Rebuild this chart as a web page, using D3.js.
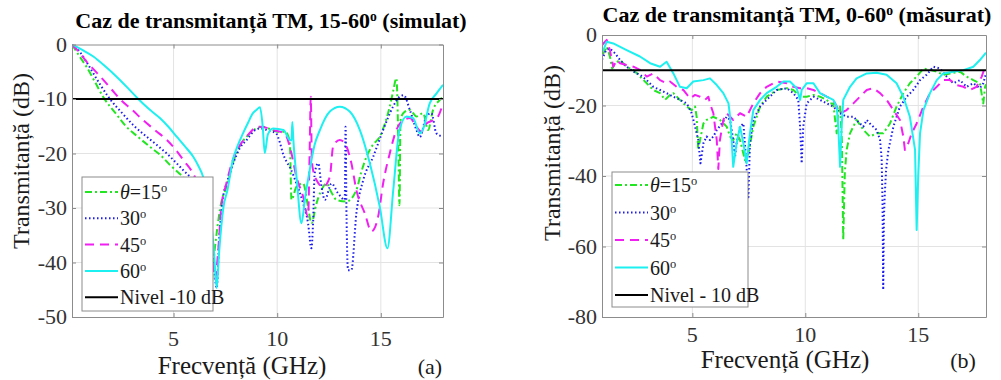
<!DOCTYPE html>
<html>
<head>
<meta charset="utf-8">
<script src="https://cdn.jsdelivr.net/npm/d3@7"></script>
<style>
  html, body { margin: 0; padding: 0; background: #fff; }
  svg text { font-family: "Liberation Serif", "Times New Roman", "DejaVu Serif", serif; }
</style>
</head>
<body>
<svg id="chart" width="1001" height="380"></svg>
<script>
// ---- data ----
const seriesNames = ["15", "30", "45", "60"];
const xTicks = [5, 10, 15];
const simYTicks = [0, -10, -20, -30, -40, -50];
const measYTicks = [0, -20, -40, -60, -80];
const levelDb = -10;

// simulated, [GHz, dB]
const sim15 = [[0.1,0],[0.4,-1.8],[0.8,-4.1],[1.2,-6.8],[1.6,-9.6],[2.2,-12.6],[2.7,-15],[3.3,-17],[3.9,-18.9],[4.4,-20.4],[4.8,-22],[5.2,-23.4],[5.5,-24.5],[5.9,-27],[6.3,-31],[6.6,-38],[6.75,-49],[6.9,-41],[7.08,-34.6],[7.3,-29],[7.57,-26],[7.86,-21.8],[8.2,-18.6],[8.53,-16.9],[8.9,-15.6],[9.3,-15.1],[9.7,-15.6],[10.0,-16],[10.4,-16],[10.5,-16.5],[10.61,-18.1],[10.69,-28.5],[10.93,-26.1],[11.25,-25.5],[11.49,-29.8],[11.65,-32.8],[11.9,-29.1],[12.1,-27],[12.38,-25.5],[12.6,-27],[12.86,-28.5],[13.34,-28.8],[13.82,-26.7],[14.05,-23.5],[14.31,-20.6],[14.6,-18.5],[14.95,-16.9],[15.2,-14.5],[15.43,-11.4],[15.6,-8.5],[15.75,-6.2],[15.8,-10],[15.85,-20],[15.9,-29.5],[15.95,-14],[16.08,-12.6],[16.4,-12],[16.72,-13.2],[17.04,-12.6],[17.28,-15.7],[17.52,-12],[17.84,-10.2],[18,-9.6]];
const sim30 = [[0.1,0],[0.4,-1],[0.8,-3.2],[1.13,-5.3],[1.5,-7.6],[1.93,-10],[2.5,-12.5],[3.06,-14.8],[3.6,-16.6],[4.18,-18.4],[4.7,-20.1],[5.15,-21.8],[5.5,-23.2],[5.79,-24.3],[6.2,-27],[6.6,-31],[6.9,-38],[7.08,-44.7],[7.2,-36],[7.35,-29],[7.6,-25],[7.86,-22],[8.2,-19],[8.53,-17.5],[8.9,-15.8],[9.16,-15.4],[9.6,-15.8],[9.95,-16.3],[10.13,-18],[10.28,-20],[10.45,-21.5],[10.61,-22.5],[10.93,-25.5],[11.25,-29.1],[11.49,-32.8],[11.65,-37.4],[11.73,-32.8],[11.81,-23.6],[11.98,-21.8],[12.14,-26.1],[12.3,-28.5],[12.62,-25.5],[12.94,-27.3],[13.26,-28.5],[13.3,-15.1],[13.34,-30],[13.42,-41.4],[13.58,-41.4],[13.82,-31],[14.15,-24.9],[14.63,-20.6],[15.11,-15.7],[15.59,-11.4],[15.9,-9.6],[16.1,-9.3],[16.4,-12],[16.72,-15.7],[16.88,-17],[17.2,-13.2],[17.44,-12.6],[17.68,-16.3],[18,-16.9]];
const sim45 = [[0.1,0],[0.4,-1.2],[0.81,-3.2],[1.2,-4.8],[1.61,-6.5],[2.0,-8.2],[2.41,-10],[3.0,-12],[3.54,-13.9],[4.1,-15.7],[4.67,-17.5],[5.1,-19.3],[5.47,-21.2],[6.03,-24.3],[6.4,-28],[6.75,-34],[7.0,-43],[7.15,-38],[7.3,-30],[7.55,-25.5],[7.86,-21.2],[8.2,-18.5],[8.53,-16.9],[8.9,-15.4],[9.16,-15.1],[9.5,-15.3],[9.8,-15.7],[10.28,-16.2],[10.45,-16.9],[10.69,-20],[10.93,-24.3],[11.25,-27.9],[11.49,-31.6],[11.57,-18.7],[11.62,-9.6],[11.67,-21],[11.73,-23],[11.9,-24.9],[12.22,-26.1],[12.54,-24.3],[12.7,-18.7],[13.02,-17.5],[13.34,-18.7],[13.58,-21.8],[13.82,-26.7],[14.23,-31],[14.55,-34.3],[14.87,-31.6],[15.11,-25.5],[15.43,-20],[15.75,-15.7],[16.08,-13.9],[16.4,-13.5],[16.72,-15.1],[16.96,-16],[17.2,-14.5],[17.52,-13.9],[17.76,-13.2],[18,-10.8]];
const sim60 = [[0.1,0],[0.6,-1],[1.13,-2.2],[1.7,-4],[2.25,-5.9],[2.8,-8],[3.3,-10],[3.8,-11.8],[4.34,-13.5],[4.75,-15.1],[5.15,-16.9],[5.55,-18.7],[5.95,-20.6],[6.2,-22.3],[6.43,-24.3],[6.7,-29],[6.95,-38],[7.08,-44.7],[7.2,-38],[7.4,-30],[7.6,-26.7],[7.86,-21.2],[8.1,-18.5],[8.35,-16.3],[8.6,-14.3],[8.83,-12.6],[9.0,-12],[9.17,-11.5],[9.3,-15],[9.4,-19.9],[9.55,-16.5],[9.8,-15.4],[10.3,-15.7],[10.6,-17.5],[10.69,-17.6],[10.73,-14.2],[10.78,-17.5],[10.95,-25],[11.17,-32.8],[11.35,-28],[11.57,-23],[11.8,-18.5],[12.06,-15.7],[12.54,-12.3],[13.02,-11.4],[13.5,-12.3],[13.99,-15.7],[14.47,-21.8],[14.95,-29.8],[15.32,-37.4],[15.6,-26.7],[15.9,-15.7],[16.24,-13.2],[16.56,-13.5],[16.88,-16.3],[17.04,-15.5],[17.36,-10.8],[17.68,-9],[18,-7.4]];

// measured, [GHz, dB]
const meas15 = [[1.0,-5.5],[1.06,-5.2],[1.21,-3.3],[1.35,-6.1],[1.45,-9.5],[1.58,-8],[1.8,-7.1],[2.09,-9],[2.39,-9.9],[2.68,-11.8],[2.98,-13.7],[3.27,-15.6],[3.57,-16.5],[3.79,-18.4],[4.01,-17],[4.16,-16.5],[4.45,-18.4],[4.75,-20.3],[4.97,-21.3],[5.12,-20.3],[5.19,-23.2],[5.26,-32.6],[5.34,-29.8],[5.49,-25.1],[5.63,-24.1],[5.93,-23.2],[6.22,-24.1],[6.52,-26],[6.67,-28.8],[6.81,-29.8],[6.96,-27.9],[7.11,-29.8],[7.33,-35.5],[7.48,-33.6],[7.7,-26],[8.0,-20.3],[8.29,-17.5],[8.73,-15.6],[9.18,-15.1],[9.47,-15.6],[9.77,-17.5],[10.06,-17.5],[10.36,-17],[10.65,-17.5],[10.95,-18.4],[11.1,-19.4],[11.24,-19.4],[11.32,-24.1],[11.39,-27.9],[11.46,-21.3],[11.54,-20.3],[11.62,-30],[11.68,-58.2],[11.75,-39],[11.83,-32.6],[11.98,-27.9],[12.27,-24.1],[12.57,-26.9],[12.86,-28.8],[13.16,-27.9],[13.45,-27.9],[13.75,-25.1],[14.04,-20.3],[14.34,-16.5],[14.63,-13.7],[14.93,-11.8],[15.23,-9.5],[15.52,-9.9],[15.82,-10.4],[16.11,-11.3],[16.41,-10.9],[16.85,-10.4],[17.14,-11.8],[17.44,-12.8],[17.73,-13.7],[17.88,-19.4],[17.96,-14.7],[18,-14]];
const meas30 = [[1.0,-7],[1.06,-6.1],[1.18,-4.3],[1.35,-3.8],[1.58,-5.2],[1.8,-7.1],[2.09,-9],[2.39,-10.4],[2.68,-11.3],[2.98,-12.8],[3.27,-14.7],[3.57,-15.6],[3.86,-16.5],[4.16,-17.5],[4.45,-18.4],[4.75,-19.4],[4.97,-22.2],[5.12,-26],[5.26,-29.8],[5.36,-36.4],[5.49,-30.7],[5.63,-28.8],[5.78,-29.8],[5.93,-28.8],[6.08,-27],[6.3,-25.1],[6.52,-23.2],[6.67,-24.1],[6.81,-29.8],[6.89,-34.5],[6.96,-30.7],[7.11,-26],[7.26,-25.1],[7.4,-37.4],[7.48,-46],[7.55,-30.7],[7.7,-24.1],[8.0,-20.3],[8.29,-18.4],[8.73,-15.6],[9.18,-15.1],[9.47,-16.5],[9.69,-18.4],[9.77,-26],[9.84,-36.4],[9.91,-26],[10.06,-19.4],[10.36,-17.5],[10.65,-18.4],[10.95,-19.4],[11.24,-20.3],[11.54,-22.2],[11.83,-23.2],[12.13,-23.2],[12.42,-25.1],[12.57,-26],[12.72,-24.1],[12.86,-25.1],[13.16,-26.9],[13.31,-29.8],[13.38,-35],[13.42,-48],[13.45,-72.3],[13.48,-52],[13.52,-45],[13.58,-38],[13.68,-32.6],[13.9,-26],[14.19,-20.3],[14.49,-17.5],[14.78,-15.6],[15.08,-12.8],[15.37,-11.3],[15.67,-9],[15.96,-9.5],[16.26,-11.8],[16.55,-13.7],[16.85,-12.8],[17.14,-14.7],[17.44,-13.7],[17.73,-15.1],[17.88,-13.7],[18,-10.9]];
const meas45 = [[1.0,-3],[1.06,-2.4],[1.21,-1.4],[1.35,-4.3],[1.5,-9],[1.65,-7.1],[1.8,-8],[2.09,-8.5],[2.39,-9],[2.68,-9.9],[2.98,-11.8],[3.27,-10.9],[3.57,-12.8],[3.86,-13.7],[4.01,-13.2],[4.31,-14.7],[4.6,-15.6],[4.9,-18],[5.12,-17],[5.34,-17.5],[5.56,-18.4],[5.71,-17.5],[5.78,-19.4],[5.93,-22.2],[6.08,-29.8],[6.15,-38],[6.22,-29.8],[6.37,-24.1],[6.52,-22.2],[6.81,-24.1],[7.11,-22.2],[7.4,-23.2],[7.7,-19.4],[8.0,-16.5],[8.29,-14.7],[8.73,-13.2],[9.18,-13.7],[9.47,-14.7],[9.77,-15.1],[10.06,-15.1],[10.36,-15.6],[10.65,-16.5],[10.95,-17.5],[11.24,-18.4],[11.39,-20.3],[11.54,-22.2],[11.83,-21.3],[12.13,-19.4],[12.42,-17.5],[12.72,-15.6],[13.01,-15.1],[13.31,-16.5],[13.6,-18.4],[13.9,-21.3],[14.19,-24.1],[14.34,-28.8],[14.41,-32.6],[14.56,-30.7],[14.71,-27.9],[14.93,-25.1],[15.23,-20.3],[15.52,-16.5],[15.82,-14.7],[16.11,-12.8],[16.41,-12.8],[16.7,-14.2],[17.0,-14.7],[17.29,-15.6],[17.58,-14.7],[17.81,-11.8],[17.96,-9],[18,-8.5]];
const meas60 = [[1.0,-4.5],[1.06,-4.3],[1.21,-1.9],[1.5,-2.4],[2.09,-4.3],[2.68,-6.1],[3.13,-8],[3.57,-9],[3.86,-7.6],[4.16,-10.9],[4.45,-14.7],[4.75,-15.1],[5.04,-13.2],[5.49,-12.8],[5.78,-12.3],[6.08,-14.2],[6.37,-16.5],[6.6,-19.4],[6.67,-23.2],[6.74,-29.8],[6.81,-37.4],[6.96,-30.7],[7.11,-26],[7.26,-30.7],[7.4,-36.4],[7.55,-27.9],[7.7,-21.3],[8.0,-18.4],[8.29,-16.5],[8.73,-14.7],[9.03,-13.2],[9.32,-13.2],[9.62,-15.1],[9.77,-18.4],[9.84,-15.6],[10.06,-13.7],[10.36,-13.7],[10.65,-16.5],[10.95,-17.5],[11.24,-18.4],[11.39,-20.3],[11.46,-26],[11.54,-37.4],[11.61,-26],[11.68,-18.4],[11.98,-14.7],[12.27,-12.3],[12.72,-10.9],[13.16,-10.7],[13.6,-11.3],[14.04,-13.7],[14.34,-17.5],[14.63,-23.2],[14.86,-32.6],[14.93,-55.3],[15.0,-40],[15.08,-27.9],[15.23,-21.3],[15.52,-16.5],[15.82,-12.8],[16.11,-10.9],[16.55,-10.4],[17.0,-10],[17.44,-9],[17.73,-7.1],[18,-5]];

// ---- styles ----
const serif = "'Liberation Serif', 'Times New Roman', 'DejaVu Serif', serif";
const styles = [
  { color: "#22e622", dash: "7,3,2,3" },
  { color: "#1c1cf0", dash: "1.5,2.5" },
  { color: "#f21ff2", dash: "9,6" },
  { color: "#1cf0f0", dash: null }
];

const svg = d3.select("#chart");

function supText(sel, parts, size) {
  // parts: array of [text, isSuper, italic]
  parts.forEach(p => {
    const t = sel.append("tspan").text(p[0]);
    if (p[1]) t.attr("baseline-shift", "super").attr("font-size", size * 0.62);
    if (p[2]) t.attr("font-style", "italic");
  });
}

function drawPanel(cfg) {
  const x = d3.scaleLinear().domain(cfg.xDomain).range([cfg.left, cfg.right]);
  const y = d3.scaleLinear().domain(cfg.yDomain).range([cfg.bottom, cfg.top]);
  const g = svg.append("g").attr("font-family", serif);

  // grid
  g.selectAll(".vg").data(xTicks).enter().append("line")
    .attr("x1", d => x(d)).attr("x2", d => x(d))
    .attr("y1", cfg.top).attr("y2", cfg.bottom)
    .attr("stroke", "#e3e3e3").attr("stroke-width", 1);
  g.selectAll(".hg").data(cfg.yTicks.slice(1, -1)).enter().append("line")
    .attr("x1", cfg.left).attr("x2", cfg.right)
    .attr("y1", d => y(d)).attr("y2", d => y(d))
    .attr("stroke", "#e3e3e3").attr("stroke-width", 1);

  // curves
  const clipId = "clip" + cfg.id;
  svg.append("clipPath").attr("id", clipId).append("rect")
    .attr("x", cfg.left).attr("y", cfg.top)
    .attr("width", cfg.right - cfg.left).attr("height", cfg.bottom - cfg.top);
  const plot = g.append("g").attr("clip-path", `url(#${clipId})`);
  const line = d3.line().x(d => x(d[0])).y(d => y(d[1])).curve(cfg.curve);
  cfg.series.forEach((s, i) => {
    plot.append("path").datum(s)
      .attr("d", line).attr("fill", "none")
      .attr("stroke", styles[i].color).attr("stroke-width", 2)
      .attr("stroke-dasharray", styles[i].dash)
      .attr("stroke-linejoin", "round");
  });
  plot.append("line")
    .attr("x1", x(cfg.xDomain[0])).attr("x2", x(cfg.xDomain[1]))
    .attr("y1", y(levelDb)).attr("y2", y(levelDb))
    .attr("stroke", "#000").attr("stroke-width", 2.2);

  // axes box with inward ticks
  const axCol = "#8c8c8c";
  const bottomAxis = d3.axisBottom(x).tickValues(xTicks).tickSizeInner(-4).tickSizeOuter(0).tickFormat("");
  const topAxis = d3.axisTop(x).tickValues(xTicks).tickSizeInner(-4).tickSizeOuter(0).tickFormat("");
  const leftAxis = d3.axisLeft(y).tickValues(cfg.yTicks).tickSizeInner(-4).tickSizeOuter(0).tickFormat("");
  const rightAxis = d3.axisRight(y).tickValues(cfg.yTicks).tickSizeInner(-4).tickSizeOuter(0).tickFormat("");
  [[bottomAxis, `translate(0,${cfg.bottom})`], [topAxis, `translate(0,${cfg.top})`],
   [leftAxis, `translate(${cfg.left},0)`], [rightAxis, `translate(${cfg.right},0)`]].forEach(a => {
    const ag = g.append("g").attr("transform", a[1]).call(a[0]);
    ag.selectAll("path,line").attr("stroke", axCol);
  });

  // tick labels
  g.selectAll(".xl").data(xTicks).enter().append("text")
    .attr("x", d => x(d)).attr("y", cfg.xTickY)
    .attr("text-anchor", "middle").attr("font-size", 22).attr("fill", "#333")
    .attr("font-family", serif)
    .text(d => d);
  g.selectAll(".yl").data(cfg.yTicks).enter().append("text")
    .attr("x", cfg.left - 5).attr("y", d => y(d) + 7)
    .attr("text-anchor", "end").attr("font-size", 22).attr("fill", "#333")
    .attr("font-family", serif)
    .text(d => d);

  // axis labels
  g.append("text").attr("x", cfg.xLabel[0]).attr("y", cfg.xLabel[1])
    .attr("text-anchor", "middle").attr("font-size", 25).attr("fill", "#1a1a1a")
    .attr("font-family", serif)
    .text("Frecvență (GHz)");
  g.append("text").attr("transform", `translate(${cfg.yLabel[0]},${cfg.yLabel[1]}) rotate(-90)`)
    .attr("text-anchor", "middle").attr("font-size", 24).attr("fill", "#1a1a1a")
    .attr("font-family", serif).attr("dy", "0.35em")
    .text("Transmitanță (dB)");
  g.append("text").attr("x", cfg.tag[0]).attr("y", cfg.tag[1])
    .attr("text-anchor", "middle").attr("font-size", 22).attr("fill", "#1a1a1a")
    .attr("font-family", serif)
    .text(cfg.tagText);

  // title
  const tt = g.append("text").attr("x", cfg.title[0]).attr("y", cfg.title[1])
    .attr("text-anchor", "middle").attr("font-size", 22).attr("font-weight", "bold")
    .attr("font-family", serif);
  supText(tt, cfg.titleParts, 22);

  // legend
  const lg = g.append("g");
  lg.append("rect").attr("x", cfg.legend.x).attr("y", cfg.legend.y)
    .attr("width", cfg.legend.w).attr("height", cfg.legend.h)
    .attr("fill", "#fff").attr("stroke", "#8c8c8c").attr("stroke-width", 1);
  const items = styles.map((s, i) => ({ style: s, parts: i === 0
      ? [["θ", false, true], ["=" + seriesNames[i], false, false], ["o", true, false]]
      : [[seriesNames[i], false, false], ["o", true, false]] }))
    .concat([{ style: { color: "#000", dash: null }, parts: [[cfg.levelText, false, false]] }]);
  items.forEach((it, i) => {
    const ry = cfg.legend.y + cfg.legend.first + i * cfg.legend.step;
    lg.append("line")
      .attr("x1", cfg.legend.x + 3).attr("x2", cfg.legend.x + 36)
      .attr("y1", ry).attr("y2", ry)
      .attr("stroke", it.style.color).attr("stroke-width", 2)
      .attr("stroke-dasharray", it.style.dash);
    const t = lg.append("text").attr("x", cfg.legend.x + 38).attr("y", ry + 7)
      .attr("font-size", 20).attr("fill", "#1a1a1a").attr("font-family", serif);
    supText(t, it.parts, 20);
  });
}

drawPanel({
  id: "a", xDomain: [0.1, 18], yDomain: [-50, 0], yTicks: simYTicks,
  left: 72, right: 443, top: 44.5, bottom: 317,
  series: [sim15, sim30, sim45, sim60], curve: d3.curveMonotoneX,
  xTickY: 346, xLabel: [242, 374], yLabel: [21, 161], tag: [430, 374], tagText: "(a)",
  title: [271, 28],
  titleParts: [["Caz de transmitanță TM, 15-60", false, false], ["o", true, false], [" (simulat)", false, false]],
  legend: { x: 82, y: 177, w: 131, h: 134, first: 15, step: 26.3 },
  levelText: "Nivel -10 dB"
});

drawPanel({
  id: "b", xDomain: [1, 18], yDomain: [-80, 0], yTicks: measYTicks,
  left: 602, right: 986, top: 35, bottom: 317,
  series: [meas15, meas30, meas45, meas60], curve: d3.curveLinear,
  xTickY: 342, xLabel: [785, 368], yLabel: [552, 153], tag: [963, 368], tagText: "(b)",
  title: [797, 22],
  titleParts: [["Caz de transmitanță TM, 0-60", false, false], ["o", true, false], [" (măsurat)", false, false]],
  legend: { x: 612, y: 172, w: 136, h: 135, first: 13, step: 27.5 },
  levelText: "Nivel - 10 dB"
});
</script>
</body>
</html>
